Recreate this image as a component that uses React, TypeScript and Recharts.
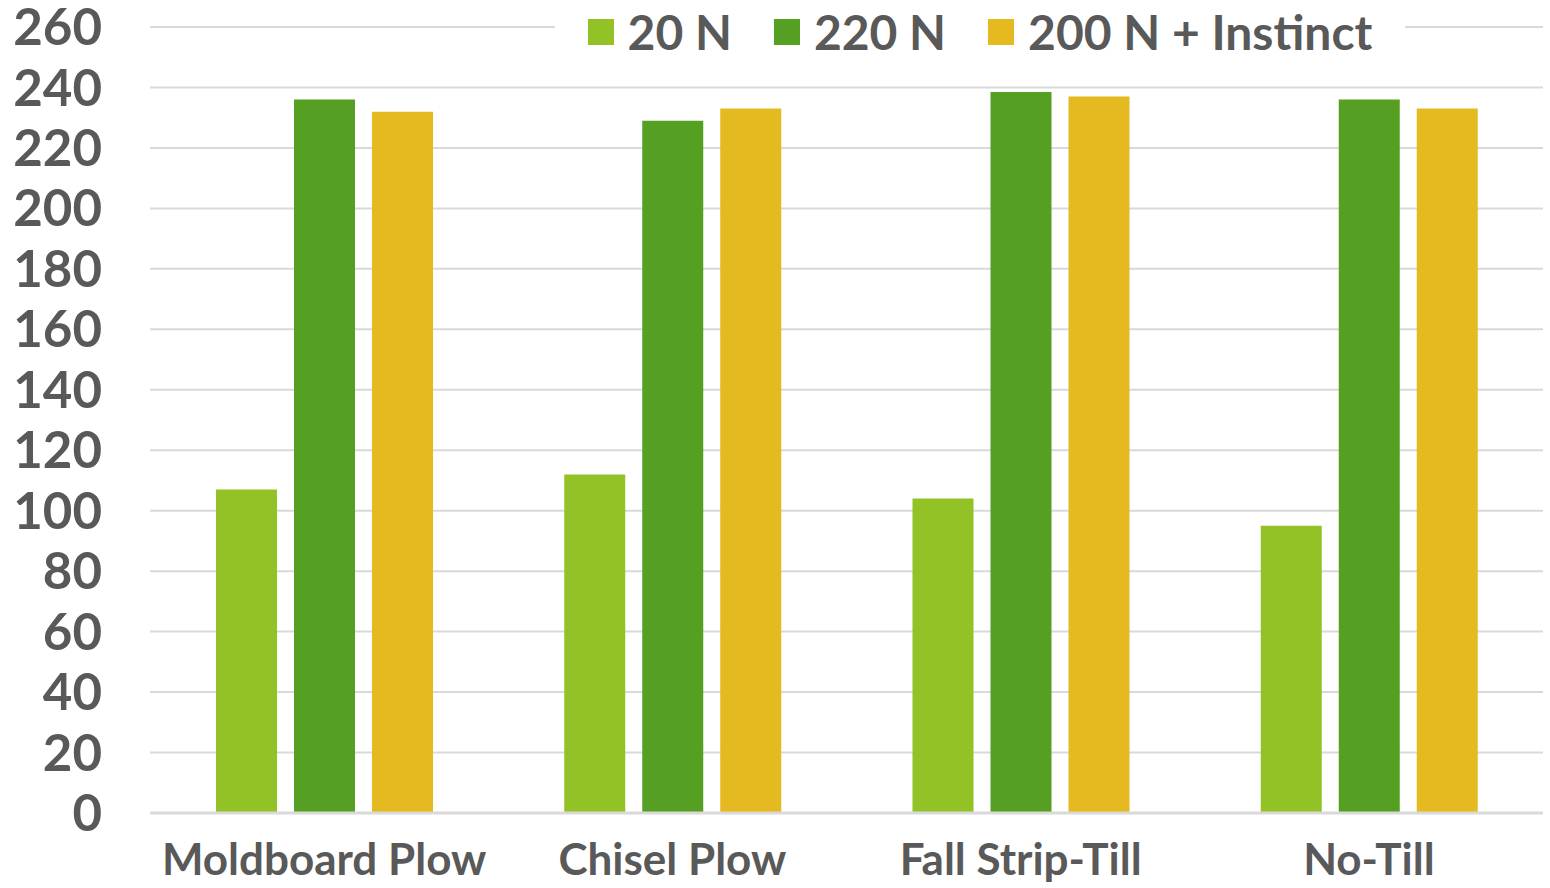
import { BarChart, Bar, XAxis, YAxis, CartesianGrid } from "recharts";

const TEXT = "#595959";
const GRID = "#d9d9d9";
const FONT = "Lato, 'Open Sans', sans-serif";

const tillage = ["Moldboard Plow", "Chisel Plow", "Fall Strip-Till", "No-Till"];
const low20N = [107, 112, 104, 95];
const high220N = [236, 229, 238.5, 236];
const instinct200N = [232, 233, 237, 233];
const yTicks = [0, 20, 40, 60, 80, 100, 120, 140, 160, 180, 200, 220, 240, 260];

const series = [
  { key: "n20", name: "20 N", color: "#92C225", values: low20N },
  { key: "n220", name: "220 N", color: "#55A022", values: high220N },
  { key: "n200i", name: "200 N + Instinct", color: "#E5B920", values: instinct200N },
];

const rows = tillage.map((name, i) => {
  const row: Record<string, string | number> = { name };
  series.forEach((s) => (row[s.key] = s.values[i]));
  return row;
});

// legend sits on top of the 260 gridline with a white backing
function TopLegend() {
  return (
    <div
      style={{
        position: "absolute",
        left: 555,
        top: 5,
        width: 850,
        height: 54,
        display: "flex",
        alignItems: "center",
        justifyContent: "center",
        background: "#fff",
        fontFamily: FONT,
        fontWeight: 700,
        fontSize: 48,
        color: TEXT,
      }}
    >
      {series.map((s) => (
        <div key={s.key} style={{ display: "flex", alignItems: "center", margin: "0 21px" }}>
          <span style={{ width: 26, height: 26, background: s.color, marginRight: 14 }} />
          <span style={{ lineHeight: "54px" }}>{s.name}</span>
        </div>
      ))}
    </div>
  );
}

export default function App() {
  return (
    <div style={{ position: "absolute", left: 0, top: 0, width: 1550, height: 888, background: "#fff" }}>
      <BarChart
        width={1550}
        height={888}
        data={rows}
        margin={{ top: 27, right: 7, left: 0, bottom: 0 }}
        barSize={61}
        barGap={17}
      >
        <CartesianGrid stroke={GRID} strokeWidth={2} vertical={false} />
        <XAxis
          dataKey="name"
          height={75}
          tickSize={0}
          tickMargin={31}
          axisLine={{ stroke: GRID, strokeWidth: 3 }}
          tick={{ fill: TEXT, fontSize: 44, fontWeight: 700, fontFamily: FONT }}
          interval={0}
        />
        <YAxis
          width={150}
          domain={[0, 260]}
          ticks={yTicks}
          interval={0}
          tickSize={0}
          tickMargin={48}
          axisLine={false}
          tick={{ fill: TEXT, fontSize: 51, fontWeight: 700, fontFamily: FONT }}
        />
        {series.map((s) => (
          <Bar key={s.key} dataKey={s.key} name={s.name} fill={s.color} isAnimationActive={false} />
        ))}
      </BarChart>
      <TopLegend />
    </div>
  );
}
